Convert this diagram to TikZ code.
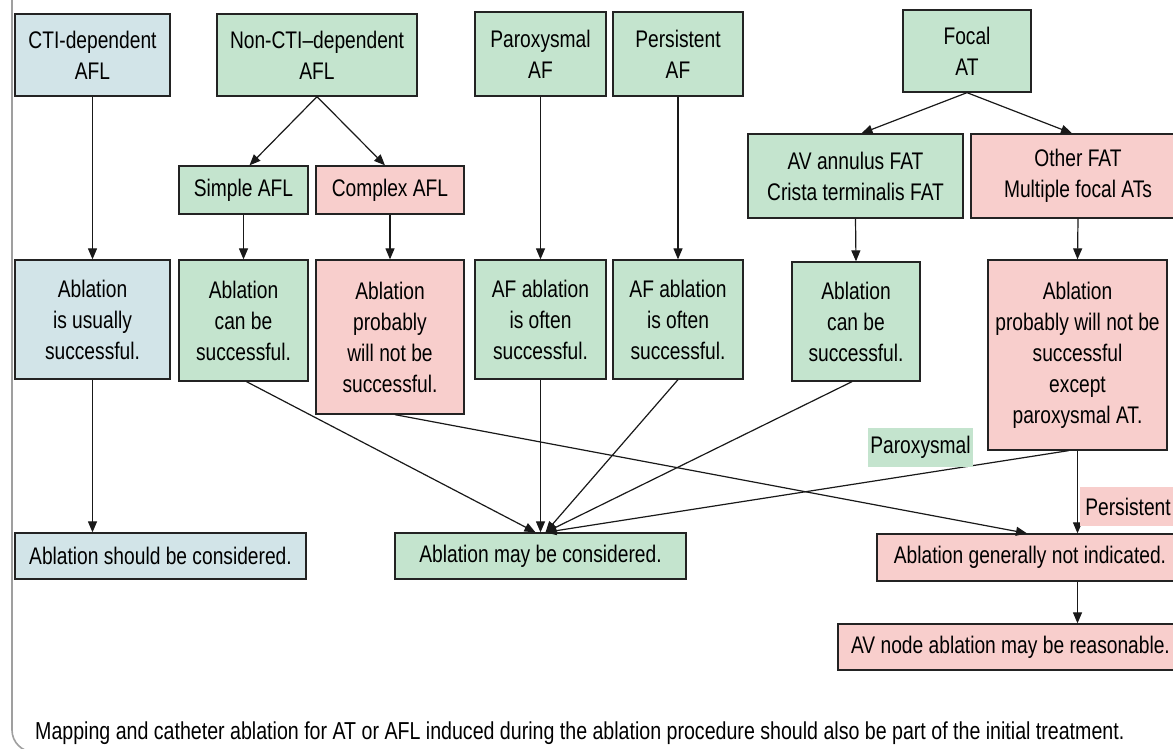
\documentclass[tikz,border=0pt]{standalone}
\usepackage{fontspec}
\setmainfont{Liberation Sans}[FakeStretch=0.8]
\usetikzlibrary{arrows.meta}
\definecolor{blueF}{RGB}{210,228,232}
\definecolor{greenF}{RGB}{196,228,206}
\definecolor{pinkF}{RGB}{248,206,204}
\definecolor{edgeC}{RGB}{35,35,35}
\begin{document}
\begin{tikzpicture}[x=1pt,y=-1pt,
  box/.style={draw=edgeC, line width=1.3pt, inner sep=0pt, align=center,
    font=\fontsize{24}{31}\selectfont},
  bluebox/.style={box, fill=blueF},
  greenbox/.style={box, fill=greenF},
  pinkbox/.style={box, fill=pinkF},
  tag/.style={inner sep=0pt, font=\fontsize{24}{31}\selectfont},
  arr/.style={draw=black!90, line width=1.2pt, -{Triangle[length=11pt,width=9pt]}}]
\useasboundingbox (0,0) rectangle (1173,748);
\clip (0,0) rectangle (1173,748);
\fill[white] (0,0) rectangle (1173,748);

% outer frame
\draw[gray!75, line width=1.6pt, rounded corners=22] (12,-30) -- (12,752) -- (1220,752);

% top row
\node[bluebox,  minimum width=155, minimum height=82] (cti)   at (92.5,55) {CTI-dependent\\AFL};
\node[greenbox, minimum width=200, minimum height=82] (nonc)  at (317,55)  {Non-CTI–dependent\\AFL};
\node[greenbox, minimum width=131, minimum height=84] (paf)   at (540.5,54) {Paroxysmal\\AF};
\node[greenbox, minimum width=130, minimum height=84] (pers)  at (678,54)  {Persistent\\AF};
\node[greenbox, minimum width=128, minimum height=82] (focal) at (967,51)  {Focal\\AT};

% second row
\node[greenbox, minimum width=129, minimum height=48] (simple)  at (243.5,190) {Simple AFL};
\node[pinkbox,  minimum width=148, minimum height=48] (complex) at (390,190)   {Complex AFL};
\node[greenbox, minimum width=215, minimum height=84] (avann)   at (855.5,176) {AV annulus FAT\\Crista terminalis FAT};
\node[pinkbox,  minimum width=214, minimum height=84] (other)   at (1078,176)  {Other FAT\\Multiple focal ATs};

% outcome row
\node[bluebox,  minimum width=155, minimum height=119] (r1) at (92.5,319.5) {Ablation\\is usually\\successful.};
\node[greenbox, minimum width=129, minimum height=121] (r2) at (243.5,320.5) {Ablation\\can be\\successful.};
\node[pinkbox,  minimum width=148, minimum height=154] (r3) at (390,337) {Ablation\\probably\\will not be\\successful.};
\node[greenbox, minimum width=131, minimum height=119] (r4) at (540.5,319.5) {AF ablation\\is often\\successful.};
\node[greenbox, minimum width=130, minimum height=119] (r5) at (678,319.5) {AF ablation\\is often\\successful.};
\node[greenbox, minimum width=128, minimum height=119] (r6) at (856,321.5) {Ablation\\can be\\successful.};
\node[pinkbox,  minimum width=179, minimum height=190] (r7) at (1077.5,355) {Ablation\\probably will not be\\successful\\except\\paroxysmal AT.};

% recommendations
\node[bluebox,  minimum width=291, minimum height=46] (should) at (160.5,556) {Ablation should be considered.};
\node[greenbox, minimum width=291, minimum height=46] (may)    at (540.5,556) {Ablation may be considered.};
\node[pinkbox,  minimum width=306, minimum height=47] (notind) at (1030,557.5) {Ablation generally not indicated.};
\node[pinkbox,  minimum width=345, minimum height=46] (avnode) at (1010.5,647) {AV node ablation may be reasonable.};

% connectors
\draw[arr] (cti.south) -- (r1.north);
\draw[arr] (nonc.south) -- ([xshift=6]simple.north);
\draw[arr] (nonc.south) -- ([xshift=-5]complex.north);
\draw[arr] (simple.south) -- (r2.north);
\draw[arr] (complex.south) -- (r3.north);
\draw[arr] (paf.south) -- (r4.north);
\draw[arr] (pers.south) -- (r5.north);
\draw[arr] (focal.south) -- ([xshift=6]avann.north);
\draw[arr] (focal.south) -- ([xshift=-6]other.north);
\draw[arr] (avann.south) -- (r6.north);
\draw[arr] (other.south) -- (r7.north);
\draw[arr] (r1.south) -- (r1.south |- should.north);
\draw[arr] ([xshift=3]r2.south) -- ([xshift=-5]may.north);
\draw[arr] (r4.south) -- (may.north);
\draw[arr] (r5.south) -- ([xshift=5]may.north);
\draw[arr] ([xshift=-4]r6.south) -- ([xshift=5]may.north);
\draw[arr] ([xshift=-9]r7.south) -- ([xshift=5]may.north);
\draw[arr] ([xshift=5]r3.south) -- ([xshift=-3]notind.north);
\draw[arr] (r7.south) -- (r7.south |- notind.north);
\draw[arr] (r7.south |- notind.south) -- (r7.south |- avnode.north);

% branch labels
\node[tag, fill=greenF, minimum width=105, minimum height=39] (parlab)  at (920.5,447.5) {Paroxysmal};
\node[tag, fill=pinkF,  minimum width=96, minimum height=39] (perslab) at (1128,506.5) {Persistent};

% footnote
\node[anchor=west, inner sep=0pt, font=\fontsize{24.5}{28}\selectfont] (note) at (35,733)
  {Mapping and catheter ablation for AT or AFL induced during the ablation procedure should also be part of the initial treatment.};
\end{tikzpicture}
\end{document}
